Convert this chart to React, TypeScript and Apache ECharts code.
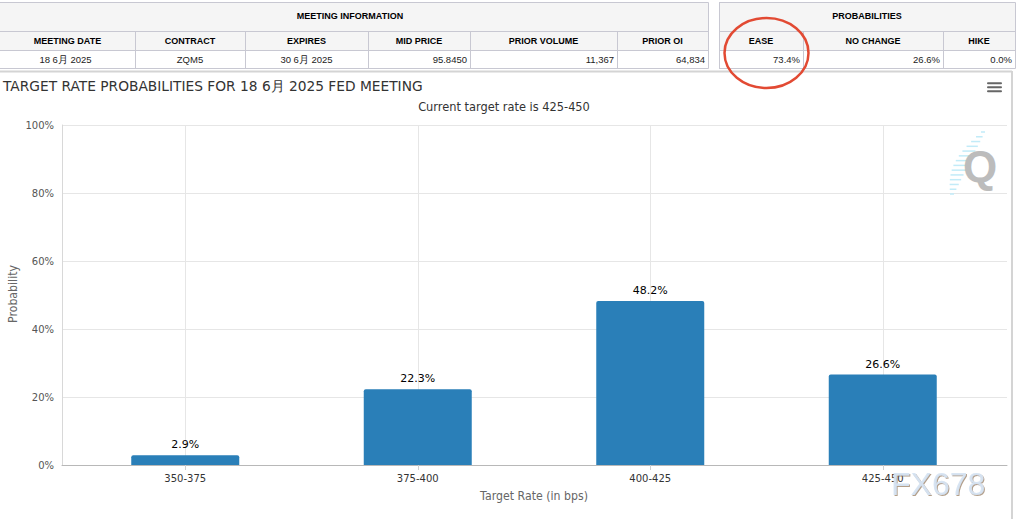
import React, { useEffect, useRef } from "react";
import * as echarts from "echarts";

// ---------- data ----------
const categories = ["350-375", "375-400", "400-425", "425-450"];
const probabilities = [2.9, 22.3, 48.2, 26.6];
const yTickStep = 20;
const yMax = 100;

const meetingTitle = "MEETING INFORMATION";
const meetingHeaders = ["MEETING DATE", "CONTRACT", "EXPIRES", "MID PRICE", "PRIOR VOLUME", "PRIOR OI"];
const meetingValues = ["18 6月 2025", "ZQM5", "30 6月 2025", "95.8450", "11,367", "64,834"];
const meetingAlign = ["center", "center", "center", "right", "right", "right"];

const probTitle = "PROBABILITIES";
const probHeaders = ["EASE", "NO CHANGE", "HIKE"];
const probValues = ["73.4%", "26.6%", "0.0%"];

const chartTitle = "TARGET RATE PROBABILITIES FOR 18 6月 2025 FED MEETING";
const chartSubtitle = "Current target rate is 425-450";
const yAxisTitle = "Probability";
const xAxisTitle = "Target Rate (in bps)";
const watermark = "FX678";

// ---------- layout ----------
const W = 1019;
const H = 519;
const leftCols = [-1, 135, 245, 368, 470, 617, 708];
const rightCols = [719, 803, 943, 1015];
const rowY = [2.5, 31.5, 50.5, 68.5];
const tableFont = "'Liberation Sans', Arial, sans-serif";
const chartFont = "'DejaVu Sans', Verdana, sans-serif";
const lineColor = "#c8c8d2";

function measure(text: string, font: string): number {
  const ctx = document.createElement("canvas").getContext("2d");
  if (!ctx) return 0;
  ctx.font = font;
  return ctx.measureText(text).width;
}
function fitScale(text: string, size: number, family: string, target: number, weight = "normal") {
  const w = measure(text, `${weight} ${size}px ${family}`);
  return w > 0 ? target / w : 1;
}

function txt(
  text: string,
  x: number,
  y: number,
  opts: { size: number; family: string; color: string; weight?: string; align?: string; scaleX?: number; rotation?: number; z?: number; extra?: any }
) {
  return {
    type: "text",
    x,
    y,
    scaleX: opts.scaleX ?? 1,
    rotation: opts.rotation ?? 0,
    z: opts.z ?? 10,
    silent: true,
    style: {
      text,
      fill: opts.color,
      fontSize: opts.size,
      fontFamily: opts.family,
      fontWeight: opts.weight ?? "normal",
      align: opts.align ?? "left",
      textAlign: opts.align ?? "left",
      verticalAlign: "middle",
      textVerticalAlign: "middle",
      ...(opts.extra || {}),
    },
  };
}
function ln(x1: number, y1: number, x2: number, y2: number, color: string, width = 1) {
  return { type: "line", silent: true, z: 5, shape: { x1, y1, x2, y2 }, style: { stroke: color, lineWidth: width } };
}
function rc(x: number, y: number, w: number, h: number, fill: string) {
  return { type: "rect", silent: true, z: 1, shape: { x, y, width: w, height: h }, style: { fill } };
}

function buildGraphic() {
  const g: any[] = [];
  // table backgrounds
  g.push(rc(0, rowY[0], leftCols[6], rowY[2] - rowY[0], "#f5f5f5"));
  g.push(rc(rightCols[0], rowY[0], rightCols[3] - rightCols[0], rowY[2] - rowY[0], "#f5f5f5"));
  // horizontal lines
  rowY.forEach((y) => {
    g.push(ln(0, y, leftCols[6] + 0.5, y, lineColor));
    g.push(ln(rightCols[0], y, rightCols[3] + 0.5, y, lineColor));
  });
  // vertical lines
  g.push(ln(leftCols[6] + 0.5, rowY[0], leftCols[6] + 0.5, rowY[3], lineColor));
  leftCols.slice(1, 6).forEach((x) => g.push(ln(x + 0.5, rowY[1], x + 0.5, rowY[3], lineColor)));
  g.push(ln(rightCols[0] + 0.5, rowY[0], rightCols[0] + 0.5, rowY[3], lineColor));
  g.push(ln(rightCols[3] + 0.5, rowY[0], rightCols[3] + 0.5, rowY[3], lineColor));
  rightCols.slice(1, 3).forEach((x) => g.push(ln(x + 0.5, rowY[1], x + 0.5, rowY[3], lineColor)));

  // table texts
  g.push(txt(meetingTitle, (0 + leftCols[6]) / 2 - 4, 16, { size: 9, family: tableFont, color: "#000", weight: "bold", align: "center" }));
  g.push(txt(probTitle, (rightCols[0] + rightCols[3]) / 2, 16, { size: 9, family: tableFont, color: "#000", weight: "bold", align: "center" }));
  meetingHeaders.forEach((h, i) => {
    const cx = (Math.max(leftCols[i], 0) + leftCols[i + 1]) / 2;
    g.push(txt(h, cx, 41, { size: 9, family: tableFont, color: "#000", weight: "bold", align: "center" }));
  });
  meetingValues.forEach((v, i) => {
    const a = meetingAlign[i];
    const x = a === "right" ? leftCols[i + 1] - 3 : (Math.max(leftCols[i], 0) + leftCols[i + 1]) / 2 - (i === 0 ? 2 : 0);
    g.push(txt(v, x, 59, { size: 9.5, family: tableFont, color: "#222", align: a }));
  });
  probHeaders.forEach((h, i) => {
    const cx = (rightCols[i] + rightCols[i + 1]) / 2;
    g.push(txt(h, cx, 41, { size: 9, family: tableFont, color: "#000", weight: "bold", align: "center" }));
  });
  probValues.forEach((v, i) => {
    g.push(txt(v, rightCols[i + 1] - 3, 59, { size: 9.5, family: tableFont, color: "#222", align: "right" }));
  });

  // chart container border
  g.push(ln(0, 71.5, 1012, 71.5, "#d4d4d4", 2));
  g.push(ln(1012, 71, 1012, H, "#d4d4d4", 2));

  // titles
  g.push(txt(chartTitle, 3, 86, { size: 14, family: chartFont, color: "#333", scaleX: fitScale(chartTitle, 14, chartFont, 420) }));
  g.push(txt(chartSubtitle, 504, 107, { size: 12, family: chartFont, color: "#333", align: "center", scaleX: fitScale(chartSubtitle, 12, chartFont, 172) }));
  g.push(txt(yAxisTitle, 13, 294, { size: 12, family: chartFont, color: "#666", align: "center", rotation: Math.PI / 2, scaleX: fitScale(yAxisTitle, 12, chartFont, 58) }));
  g.push(txt(xAxisTitle, 534, 496, { size: 12, family: chartFont, color: "#666", align: "center", scaleX: fitScale(xAxisTitle, 12, chartFont, 108) }));

  // hamburger menu
  [83.3, 87.3, 91.3].forEach((y) => g.push({ type: "rect", silent: true, z: 10, shape: { x: 987, y: y - 1, width: 15, height: 2, r: 1 }, style: { fill: "#666" } }));

  // Q logo streaks
  for (let i = 0; i < 14; i++) {
    const t = i / 13;
    const cx = 985 - 31 * t;
    const y = 132 + 62 * t;
    const len = 4 + 11 * Math.sin(Math.PI * t);
    g.push({ type: "line", silent: true, z: 8, shape: { x1: cx - len, y1: y, x2: cx, y2: y }, style: { stroke: "#c2ebf8", lineWidth: 1.5 } });
  }
  g.push(txt("Q", 980, 166, { size: 44, family: "'Liberation Sans', Arial, sans-serif", color: "#bcbcbc", weight: "bold", align: "center", z: 9 }));

  // watermark
  g.push(
    txt(watermark, 891, 484, {
      size: 32,
      family: "'Liberation Sans', Arial, sans-serif",
      color: "rgba(214,228,242,0.95)",
      z: 100,
      extra: { textShadowColor: "rgba(140,110,80,0.7)", textShadowOffsetX: 1, textShadowOffsetY: 1, textShadowBlur: 1 },
    })
  );

  // red ellipse
  g.push({ type: "ellipse", silent: true, z: 50, shape: { cx: 766.5, cy: 53, rx: 42, ry: 35 }, style: { fill: "none", stroke: "#e24a33", lineWidth: 2.5 } });
  return g;
}

export default function App() {
  const ref = useRef<HTMLDivElement>(null);
  useEffect(() => {
    if (!ref.current) return;
    const chart = echarts.init(ref.current, undefined, { renderer: "svg" });
    const option: any = {
      animation: false,
      backgroundColor: "#fff",
      grid: [
        { left: 62, right: W - 1007, top: 125, bottom: H - 465 },
        { left: 69, right: W - 999, top: 125, bottom: H - 465 },
        { left: 185.25, right: W - 882.75, top: 125, bottom: H - 465 },
      ],
      xAxis: [
        {
          gridIndex: 0,
          type: "value",
          min: 0,
          max: 1,
          axisLine: { show: true, onZero: false, lineStyle: { color: "#b8b8b8", width: 1 } },
          axisTick: { show: false },
          axisLabel: { show: false },
          splitLine: { show: false },
        },
        {
          gridIndex: 1,
          type: "category",
          data: categories,
          axisLine: { show: false },
          axisTick: { show: false },
          splitLine: { show: false },
          axisLabel: { color: "#333", fontSize: 10, fontFamily: chartFont, margin: 8 },
        },
        {
          gridIndex: 2,
          type: "value",
          min: 0,
          max: categories.length - 1,
          interval: 1,
          axisLine: { show: false },
          axisTick: { show: true, length: 5, lineStyle: { color: "#d0d0d0" } },
          axisLabel: { show: false },
          splitLine: { show: true, lineStyle: { color: "#e6e6e6", width: 1 } },
        },
      ],
      yAxis: [
        {
          gridIndex: 0,
          type: "value",
          min: 0,
          max: yMax,
          interval: yTickStep,
          axisLine: { show: true, lineStyle: { color: "#d8d8d8" } },
          axisTick: { show: false },
          axisLabel: { formatter: "{value}%", color: "#555", fontSize: 10, fontFamily: chartFont, margin: 8 },
          splitLine: { show: true, lineStyle: { color: "#e6e6e6", width: 1 } },
        },
        { gridIndex: 1, type: "value", min: 0, max: yMax, show: false },
        { gridIndex: 2, type: "value", min: 0, max: yMax, show: false },
      ],
      series: [
        {
          type: "bar",
          xAxisIndex: 1,
          yAxisIndex: 1,
          data: probabilities,
          barWidth: 108,
          itemStyle: { color: "#2a7fb8", borderRadius: [2, 2, 0, 0] },
          label: {
            show: true,
            position: "top",
            distance: 5,
            formatter: (p: any) => `${Number(p.value).toFixed(1)}%`,
            color: "#000",
            fontSize: 11,
            fontFamily: chartFont,
          },
        },
      ],
      graphic: buildGraphic(),
    };
    chart.setOption(option);
    return () => chart.dispose();
  }, []);
  return <div ref={ref} style={{ position: "fixed", left: 0, top: 0, width: W, height: H, background: "#fff" }} />;
}
